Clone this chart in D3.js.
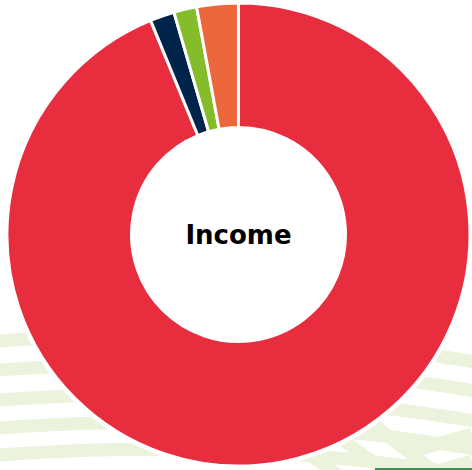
<!DOCTYPE html>
<html>
<head>
<meta charset="utf-8">
<script src="https://cdn.jsdelivr.net/npm/d3@7"></script>
<style>
  html, body { margin: 0; padding: 0; background: #fff; overflow: hidden; }
</style>
</head>
<body>
<script>
// income split (percent)
const categories = ['Main income', 'Other A', 'Other B', 'Other C'];
const values = [93.8, 1.7, 1.6, 2.9];
const colors = ['#e82d3e', '#002349', '#84bc2a', '#ec683c'];
const centerLabel = 'Income';

const chartConfig = {
    w: 472,
    h: 470,
    cx: 238.5,
    cy: 234.5,
    outer: 231.5,
    inner: 107
};

const svg = d3.select('body')
    .append('svg')
    .attr('width', chartConfig.w)
    .attr('height', chartConfig.h);

// BACKGROUND DECORATION (light green stripes)

const deco = svg.append('g')
    .attr('fill', 'none')
    .attr('stroke', '#ebf3dd')
    .attr('stroke-width', 13);

// soft curved bands, bottom left
[341, 370, 400, 428, 455, 483].forEach(function(y0) {
    const R = 2000, xc = 150;
    const cyc = y0 + Math.sqrt(R * R - xc * xc) ;
    const pts = d3.range(0, 481, 10).map(function(x) {
        return [x, cyc - Math.sqrt(R * R - (x - xc) * (x - xc)) ];
    });
    deco.append('path').attr('d', d3.line()(pts));
});

// diagonal bands, bottom right
[[[370, 422], [440, 476]], [[340, 438], [400, 482]], [[306, 452], [350, 484]],
 [[472, 434], [410, 452]], [[472, 461], [425, 475]]].forEach(function(seg) {
    deco.append('path').attr('d', d3.line()(seg));
});

// green rule bottom right
svg.append('rect')
    .attr('x', 375)
    .attr('y', 468)
    .attr('width', chartConfig.w - 375)
    .attr('height', 3)
    .attr('fill', '#2e9a4a');

// DONUT

const pie = d3.pie().sort(null).value(function(d) { return d; });
const arc = d3.arc()
    .innerRadius(chartConfig.inner)
    .outerRadius(chartConfig.outer);

const g = svg.append('g')
    .attr('transform', 'translate(' + chartConfig.cx + ',' + chartConfig.cy + ')');

// white halo round the ring
g.append('circle')
    .attr('r', chartConfig.outer + 3)
    .attr('fill', '#fff');

g.selectAll('path')
    .data(pie(values))
    .enter()
    .append('path')
    .attr('d', arc)
    .attr('fill', function(d, i) { return colors[i]; })
    .attr('stroke', '#fff')
    .attr('stroke-width', 3)
    .attr('stroke-linejoin', 'round');

g.append('text')
    .text(centerLabel)
    .attr('x', 0)
    .attr('y', 9)
    .attr('text-anchor', 'middle')
    .attr('font-family', '"DejaVu Sans", sans-serif')
    .attr('font-weight', 'bold')
    .attr('font-size', '26px')
    .attr('fill', '#000');
</script>
</body>
</html>
